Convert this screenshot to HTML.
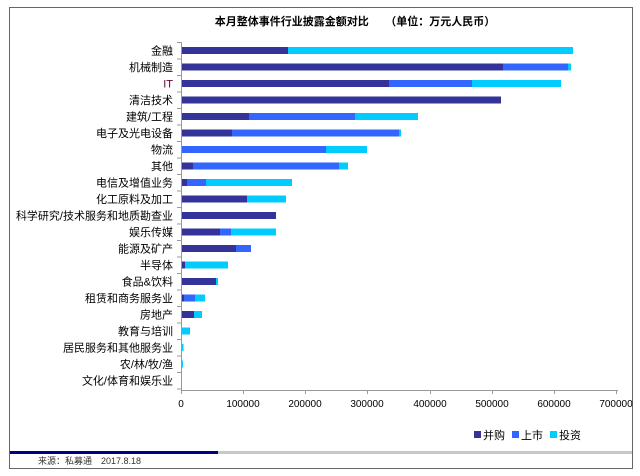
<!DOCTYPE html>
<html><head><meta charset="utf-8"><style>
html,body{margin:0;padding:0;background:#fff;}
svg{display:block;font-family:"Liberation Sans","Noto Sans CJK SC",sans-serif;}
</style></head><body>
<svg width="640" height="476" viewBox="0 0 640 476" xmlns="http://www.w3.org/2000/svg">
<rect x="9.5" y="7.5" width="623" height="461" fill="#fff" stroke="#666" stroke-width="1"/>
<text x="355" y="25" font-size="11" font-weight="bold" text-anchor="middle" fill="#000">本月整体事件行业披露金额对比　　（单位：万元人民币）</text>
<g font-size="11" text-anchor="end" fill="#000">
<text x="173" y="54.5">金融</text>
<text x="173" y="71">机械制造</text>
<text x="173" y="87.5" fill="#603">IT</text>
<text x="173" y="104">清洁技术</text>
<text x="173" y="120.5">建筑/工程</text>
<text x="173" y="137">电子及光电设备</text>
<text x="173" y="153.5">物流</text>
<text x="173" y="170">其他</text>
<text x="173" y="186.5">电信及增值业务</text>
<text x="173" y="203">化工原料及加工</text>
<text x="173" y="219.5">科学研究/技术服务和地质勘查业</text>
<text x="173" y="236">娱乐传媒</text>
<text x="173" y="252.5">能源及矿产</text>
<text x="173" y="269">半导体</text>
<text x="173" y="285.5">食品&amp;饮料</text>
<text x="173" y="302">租赁和商务服务业</text>
<text x="173" y="318.5">房地产</text>
<text x="173" y="335">教育与培训</text>
<text x="173" y="351.5">居民服务和其他服务业</text>
<text x="173" y="368">农/林/牧/渔</text>
<text x="173" y="384.5">文化/体育和娱乐业</text>
</g>
<g stroke="#999" stroke-width="1">
<line x1="181.5" y1="42" x2="181.5" y2="390"/>
<line x1="181" y1="390.5" x2="618" y2="390.5"/>
</g>
<g stroke="#999" stroke-width="1">
<line x1="177" y1="42.5" x2="181" y2="42.5"/><line x1="177" y1="59" x2="181" y2="59"/><line x1="177" y1="75.5" x2="181" y2="75.5"/><line x1="177" y1="92" x2="181" y2="92"/><line x1="177" y1="108.5" x2="181" y2="108.5"/><line x1="177" y1="125" x2="181" y2="125"/><line x1="177" y1="141.5" x2="181" y2="141.5"/><line x1="177" y1="158" x2="181" y2="158"/><line x1="177" y1="174.5" x2="181" y2="174.5"/><line x1="177" y1="191" x2="181" y2="191"/><line x1="177" y1="207.5" x2="181" y2="207.5"/><line x1="177" y1="224" x2="181" y2="224"/><line x1="177" y1="240.5" x2="181" y2="240.5"/><line x1="177" y1="257" x2="181" y2="257"/><line x1="177" y1="273.5" x2="181" y2="273.5"/><line x1="177" y1="290" x2="181" y2="290"/><line x1="177" y1="306.5" x2="181" y2="306.5"/><line x1="177" y1="323" x2="181" y2="323"/><line x1="177" y1="339.5" x2="181" y2="339.5"/><line x1="177" y1="356" x2="181" y2="356"/><line x1="177" y1="372.5" x2="181" y2="372.5"/><line x1="177" y1="389" x2="181" y2="389"/>
<line x1="181.5" y1="390" x2="181.5" y2="394"/><line x1="243.5" y1="390" x2="243.5" y2="394"/><line x1="305.5" y1="390" x2="305.5" y2="394"/><line x1="367.5" y1="390" x2="367.5" y2="394"/><line x1="430.5" y1="390" x2="430.5" y2="394"/><line x1="492.5" y1="390" x2="492.5" y2="394"/><line x1="554.5" y1="390" x2="554.5" y2="394"/><line x1="616.5" y1="390" x2="616.5" y2="394"/>
</g>
<g font-size="10" text-anchor="middle" fill="#000">
<text x="181" y="407">0</text><text x="243" y="407">100000</text><text x="305" y="407">200000</text><text x="367" y="407">300000</text><text x="430" y="407">400000</text><text x="492" y="407">500000</text><text x="554" y="407">600000</text><text x="616" y="407">700000</text>
</g>
<g>
<rect x="182" y="47" width="106" height="7" fill="#333399"/><rect x="288" y="47" width="285" height="7" fill="#00CCFF"/>
<rect x="182" y="63.5" width="321" height="7" fill="#333399"/><rect x="503" y="63.5" width="65" height="7" fill="#3366FF"/><rect x="568" y="63.5" width="3" height="7" fill="#00CCFF"/>
<rect x="182" y="80" width="207" height="7" fill="#333399"/><rect x="389" y="80" width="83" height="7" fill="#3366FF"/><rect x="472" y="80" width="89" height="7" fill="#00CCFF"/>
<rect x="182" y="96.5" width="319" height="7" fill="#333399"/>
<rect x="182" y="113" width="67" height="7" fill="#333399"/><rect x="249" y="113" width="106" height="7" fill="#3366FF"/><rect x="355" y="113" width="63" height="7" fill="#00CCFF"/>
<rect x="182" y="129.5" width="50" height="7" fill="#333399"/><rect x="232" y="129.5" width="167" height="7" fill="#3366FF"/><rect x="399" y="129.5" width="2" height="7" fill="#00CCFF"/>
<rect x="182" y="146" width="144" height="7" fill="#3366FF"/><rect x="326" y="146" width="41" height="7" fill="#00CCFF"/>
<rect x="182" y="162.5" width="11" height="7" fill="#333399"/><rect x="193" y="162.5" width="146" height="7" fill="#3366FF"/><rect x="339" y="162.5" width="9" height="7" fill="#00CCFF"/>
<rect x="182" y="179" width="5" height="7" fill="#333399"/><rect x="187" y="179" width="19" height="7" fill="#3366FF"/><rect x="206" y="179" width="86" height="7" fill="#00CCFF"/>
<rect x="182" y="195.5" width="65" height="7" fill="#333399"/><rect x="247" y="195.5" width="39" height="7" fill="#00CCFF"/>
<rect x="182" y="212" width="94" height="7" fill="#333399"/>
<rect x="182" y="228.5" width="38" height="7" fill="#333399"/><rect x="220" y="228.5" width="11" height="7" fill="#3366FF"/><rect x="231" y="228.5" width="45" height="7" fill="#00CCFF"/>
<rect x="182" y="245" width="54" height="7" fill="#333399"/><rect x="236" y="245" width="15" height="7" fill="#3366FF"/>
<rect x="182" y="261.5" width="3" height="7" fill="#333399"/><rect x="185" y="261.5" width="43" height="7" fill="#00CCFF"/>
<rect x="182" y="278" width="34" height="7" fill="#333399"/><rect x="216" y="278" width="2" height="7" fill="#00CCFF"/>
<rect x="182" y="294.5" width="2" height="7" fill="#333399"/><rect x="184" y="294.5" width="11" height="7" fill="#3366FF"/><rect x="195" y="294.5" width="10" height="7" fill="#00CCFF"/>
<rect x="182" y="311" width="12" height="7" fill="#333399"/><rect x="194" y="311" width="8" height="7" fill="#00CCFF"/>
<rect x="182" y="327.5" width="8" height="7" fill="#00CCFF"/>
<rect x="182" y="344" width="1.5" height="7" fill="#00CCFF"/>
<rect x="182" y="360.5" width="1" height="7" fill="#00CCFF"/>
</g>
<g font-size="11" fill="#000">
<rect x="474" y="431" width="7" height="7" fill="#333399"/><text x="483" y="439">并购</text>
<rect x="512" y="431" width="7" height="7" fill="#3366FF"/><text x="521" y="439">上市</text>
<rect x="550" y="431" width="7" height="7" fill="#00CCFF"/><text x="559" y="439">投资</text>
</g>
<rect x="10" y="451" width="208" height="3" fill="#000080"/>
<rect x="218" y="451" width="414" height="3" fill="#c8c8c8"/>
<text x="38" y="464" font-size="9" fill="#333">来源：私募通　2017.8.18</text>
</svg>
</body></html>
